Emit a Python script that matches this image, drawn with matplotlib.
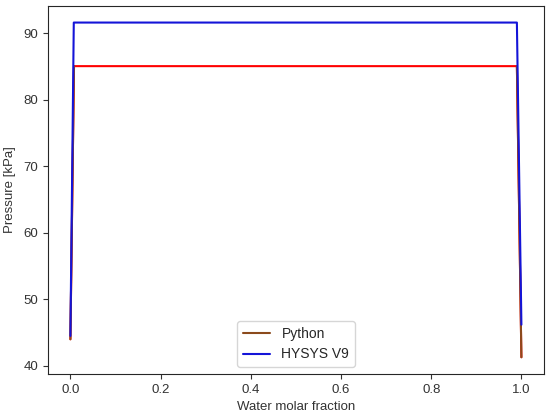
import matplotlib
matplotlib.use("Agg")
import matplotlib.pyplot as plt
import seaborn as sns
from matplotlib.lines import Line2D

# Data
python_x = [0.0, 0.008, 0.99, 1.0]
python_y = [44.0, 85.05, 85.05, 41.3]
hysys_x = [0.0, 0.0075, 0.99, 1.0]
hysys_y = [44.5, 91.6, 91.6, 46.2]

sns.set_style("ticks")
plt.rcParams['font.family'] = ['Liberation Sans', 'DejaVu Sans']

fig = plt.figure(figsize=(5.5, 4.16), dpi=100)
ax = fig.add_axes([0.087, 0.101, 0.902, 0.885])

brown = '#8b4a1c'
blue = '#1414d8'
ax.plot(python_x, python_y, color='red', lw=1.5)
ax.plot(python_x[:2], python_y[:2], color=brown, lw=1.5)
ax.plot(python_x[-2:], python_y[-2:], color=brown, lw=1.5)
ax.plot(hysys_x, hysys_y, color=blue, lw=1.5)

handles = [Line2D([0], [0], color=brown, lw=1.5),
           Line2D([0], [0], color=blue, lw=1.5)]
ax.legend(handles, ['Python', 'HYSYS V9'], loc='lower center', fontsize=10)

ax.set_xlabel('Water molar fraction', fontsize=9.5, labelpad=3.5)
ax.set_ylabel('Pressure [kPa]', fontsize=9.5, labelpad=5)
ax.tick_params(labelsize=9.5, colors='#333333')
ax.xaxis.label.set_color('#333333')
ax.yaxis.label.set_color('#333333')
ax.set_yticks([40, 50, 60, 70, 80, 90])
ax.set_xticks([0.0, 0.2, 0.4, 0.6, 0.8, 1.0])

fig.savefig('out.png', dpi=100)
